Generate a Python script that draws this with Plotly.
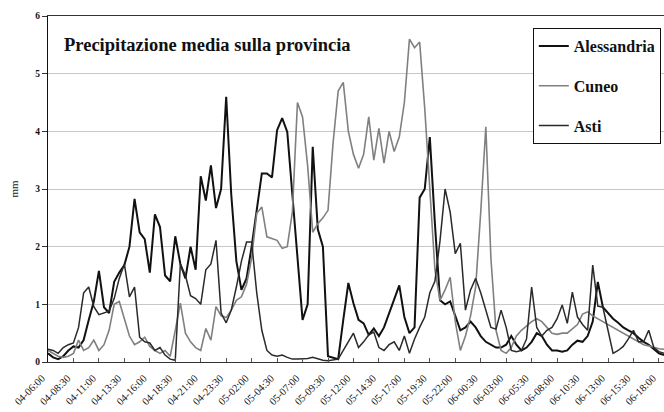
import plotly.graph_objects as go

# time categories: every 30 minutes starting 04-06:00
tick_labels = ["04-06:00", "04-08:30", "04-11:00", "04-13:30", "04-16:00", "04-18:30",
               "04-21:00", "04-23:30", "05-02:00", "05-04:30", "05-07:00", "05-09:30",
               "05-12:00", "05-14:30", "05-17:00", "05-19:30", "05-22:00", "06-00:30",
               "06-03:00", "06-05:30", "06-08:00", "06-10:30", "06-13:00", "06-15:30",
               "06-18:00"]

alessandria = [0.15, 0.08, 0.05, 0.10, 0.20, 0.27, 0.25, 0.38, 0.73, 1.05,
               1.58, 0.95, 0.85, 1.39, 1.55, 1.68, 2.00, 2.83, 2.25, 2.13,
               1.55, 2.56, 2.34, 1.50, 1.40, 2.18, 1.70, 1.45, 2.00, 1.60,
               3.22, 2.80, 3.41, 2.67, 3.00, 4.60, 2.90, 1.75, 1.25, 1.45,
               2.00, 2.63, 3.27, 3.27, 3.20, 4.02, 4.23, 3.99, 2.90, 1.80,
               0.73, 1.00, 3.73, 2.30, 2.00, 0.10, 0.08, 0.05, 0.73, 1.37,
               1.02, 0.73, 0.67, 0.47, 0.58, 0.45, 0.60, 0.85, 1.10, 1.33,
               0.78, 0.50, 0.60, 2.85, 3.00, 3.90, 2.40, 1.07, 1.00, 1.05,
               0.80, 0.55, 0.60, 0.70, 0.60, 0.45, 0.35, 0.30, 0.25, 0.25,
               0.30, 0.45, 0.30, 0.20, 0.25, 0.35, 0.50, 0.45, 0.30, 0.20,
               0.20, 0.18, 0.20, 0.30, 0.37, 0.35, 0.45, 0.70, 1.39, 0.95,
               0.85, 0.75, 0.68, 0.60, 0.55, 0.50, 0.42, 0.35, 0.30, 0.22,
               0.15, 0.12]

cuneo = [0.20, 0.15, 0.10, 0.08, 0.10, 0.15, 0.38, 0.20, 0.25, 0.38,
         0.20, 0.30, 0.55, 1.00, 1.05, 0.75, 0.45, 0.30, 0.35, 0.43,
         0.27, 0.20, 0.15, 0.20, 0.10, 0.55, 1.02, 0.50, 0.35, 0.25,
         0.20, 0.58, 0.38, 0.96, 0.80, 0.77, 0.90, 1.07, 1.13, 1.35,
         1.80, 2.58, 2.69, 2.17, 2.14, 2.11, 1.97, 2.00, 2.60, 4.50,
         4.25, 3.40, 2.25, 2.40, 2.50, 2.63, 3.80, 4.70, 4.85, 4.00,
         3.60, 3.36, 3.60, 4.25, 3.50, 4.05, 3.45, 4.00, 3.65, 3.90,
         4.50, 5.60, 5.45, 5.55, 4.40, 2.90, 1.60, 1.07, 1.25, 1.47,
         0.70, 0.20, 0.45, 0.80, 1.30, 2.60, 4.08, 1.80, 0.55, 0.20,
         0.15, 0.25, 0.45, 0.55, 0.62, 0.70, 0.75, 0.70, 0.60, 0.50,
         0.48, 0.50, 0.50, 0.58, 0.65, 0.83, 0.87, 0.80, 0.75, 0.70,
         0.65, 0.60, 0.55, 0.50, 0.45, 0.40, 0.35, 0.30, 0.28, 0.25,
         0.23, 0.22]

asti = [0.22, 0.20, 0.15, 0.25, 0.30, 0.33, 0.60, 1.20, 1.30, 0.96,
        0.82, 0.85, 0.88, 1.10, 1.45, 1.70, 1.13, 1.30, 0.43, 0.35,
        0.33, 0.20, 0.25, 0.12, 0.05, 0.03, 1.70, 1.50, 1.15, 1.10,
        1.00, 1.60, 1.70, 2.11, 0.85, 0.68, 0.90, 1.30, 1.75, 2.08,
        2.08, 1.20, 0.55, 0.20, 0.12, 0.10, 0.12, 0.08, 0.05, 0.05,
        0.05, 0.06, 0.08, 0.05, 0.03, 0.02, 0.03, 0.05, 0.20, 0.35,
        0.50, 0.25, 0.35, 0.47, 0.52, 0.25, 0.20, 0.30, 0.35, 0.20,
        0.45, 0.15, 0.40, 0.60, 0.78, 1.20, 1.40, 2.10, 3.00, 2.60,
        1.88, 2.06, 0.90, 1.25, 1.45, 1.20, 0.90, 0.60, 0.57, 0.90,
        0.60, 0.20, 0.18, 0.20, 0.40, 1.30, 0.60, 0.45, 0.55, 0.60,
        0.75, 0.99, 0.67, 1.21, 0.78, 0.65, 0.55, 1.68, 0.97, 0.95,
        0.55, 0.15, 0.20, 0.27, 0.40, 0.55, 0.35, 0.35, 0.55, 0.25,
        0.18, 0.15]

idx = list(range(len(alessandria)))
tick_idx = list(range(0, 121, 5))

serif = "Liberation Serif, Times New Roman, serif"

fig = go.Figure()
fig.add_trace(go.Scatter(x=idx, y=alessandria, mode="lines", name="Alessandria",
                         legendgroup="a", line=dict(color="#111111", width=2)))
fig.add_trace(go.Scatter(x=idx, y=cuneo, mode="lines", name="Cuneo",
                         legendgroup="c", line=dict(color="#808080", width=1.6)))
fig.add_trace(go.Scatter(x=idx, y=asti, mode="lines", name="Asti",
                         legendgroup="s", line=dict(color="#2a2a2a", width=1.5)))

fig.update_layout(
    width=664, height=412,
    margin=dict(l=48, r=0, t=16, b=50, autoexpand=False),
    paper_bgcolor="white", plot_bgcolor="white",
    font=dict(family=serif, color="#111111"),
    showlegend=True,
    legend=dict(x=0.787, y=0.965, xanchor="left", yanchor="top",
                bgcolor="white", bordercolor="#111111", borderwidth=1,
                font=dict(family=serif, size=16, color="#111111", weight="bold"),
                tracegroupgap=16, itemwidth=30),
    xaxis=dict(range=[0, 121], tickmode="array", tickvals=tick_idx,
               ticktext=tick_labels, tickangle=-45, automargin=False,
               tickfont=dict(family=serif, size=10.5, color="#111111"),
               ticklabelshift=-6, ticklabelstandoff=5,
               showgrid=False, zeroline=False, showline=True,
               linecolor="#333333", linewidth=1, mirror=True,
               ticks="inside", ticklen=4, tickcolor="#555555"),
    yaxis=dict(range=[0, 6], tickvals=[0, 1, 2, 3, 4, 5, 6], automargin=False,
               tickfont=dict(family=serif, size=9.5, color="#111111", weight="bold"),
               showgrid=True, gridcolor="#c8c8c8", gridwidth=1,
               zeroline=False, showline=True, linecolor="#111111", linewidth=1.2,
               ticks="outside", ticklen=5, tickcolor="#333333",
               title=dict(text="mm", font=dict(family=serif, size=11, color="#222222"),
                          standoff=14)),
    annotations=[dict(text="<b>Precipitazione media sulla provincia</b>",
                      xref="paper", yref="paper", x=0.023, y=0.916,
                      xanchor="left", yanchor="middle", showarrow=False,
                      font=dict(family=serif, size=18.5, color="#111111"))],
)

fig.write_html("out.html", config={"displayModeBar": False},
               post_script="document.body.style.margin='0';")
